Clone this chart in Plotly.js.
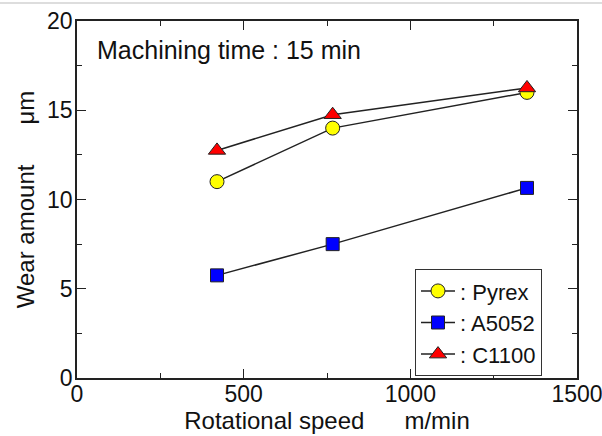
<!DOCTYPE html>
<html><head><meta charset="utf-8">
<script src="https://cdn.plot.ly/plotly-3.0.1.min.js"></script>
<style>html,body{margin:0;padding:0;background:#fff}</style>
</head><body>
<div id="chart" style="width:602px;height:436px"></div>
<script>
const speed = [420, 767, 1350];
const pyrex = [11.0, 14.0, 16.0];
const a5052 = [5.75, 7.5, 10.65];
const c1100 = [12.75, 14.75, 16.25];
const names = [': Pyrex', ': A5052', ': C1100'];
const xTitle = 'Rotational speed      m/min';
const yTitle = 'Wear amount      \u03bcm';
const note = 'Machining time : 15 min';

const FONT = 'Liberation Sans, Arial, sans-serif';
function tr(y, name, sym, col, sz) {
  return {x: speed, y: y, name: name, type: 'scatter', mode: 'lines+markers',
    line: {color: '#222', width: 1.5},
    marker: {symbol: sym, size: sz, color: col, line: {color: '#222', width: 1}}};
}
const data = [
  tr(pyrex, names[0], 'circle', '#ffff00', 14),
  tr(a5052, names[1], 'square', '#0000ff', 13),
  tr(c1100, names[2], 'triangle-up', '#ff0000', 15)
];
const axisCommon = {showgrid: false, zeroline: false, showline: true, linecolor: '#222', linewidth: 1.5,
  mirror: 'ticks', ticks: 'inside', ticklen: 9, tickwidth: 1, tickcolor: '#222',
  ticklabeloverflow: 'allow',
  tickfont: {family: FONT, size: 23, color: '#111'}};
const layout = {
  width: 602, height: 436,
  margin: {l: 77, r: 25, t: 21, b: 58},
  paper_bgcolor: '#fff', plot_bgcolor: '#fff',
  font: {family: FONT, color: '#111'},
  showlegend: true,
  legend: {x: 0.676, y: 0.305, xanchor: 'left', yanchor: 'top', bordercolor: '#333', borderwidth: 1,
    bgcolor: '#fff', font: {family: FONT, size: 22, color: '#111'}, tracegroupgap: 0, itemwidth: 34},
  xaxis: Object.assign({}, axisCommon, {range: [0, 1500], tickvals: [0, 500, 1000, 1500],
    ticklabelstandoff: -5,
    minor: {dtick: 250, ticks: 'inside', ticklen: 5, tickcolor: '#222'},
    title: {text: xTitle, font: {family: FONT, size: 24}, standoff: 0}}),
  yaxis: Object.assign({}, axisCommon, {range: [0, 20], tickvals: [0, 5, 10, 15, 20],
    ticklabelstandoff: -2,
    minor: {dtick: 2.5, ticks: 'inside', ticklen: 5, tickcolor: '#222'},
    title: {text: yTitle, font: {family: FONT, size: 24}, standoff: 6}}),
  annotations: [{text: note, xref: 'paper', yref: 'paper', x: 0.036, y: 0.92, xanchor: 'left', yanchor: 'middle',
    showarrow: false, font: {family: FONT, size: 25, color: '#111'}}],
  shapes: [{type: 'line', xref: 'paper', yref: 'paper', x0: -0.154, x1: 1.05, y0: 1.0504, y1: 1.0504,
    line: {color: '#bbb', width: 1}}]
};
Plotly.newPlot('chart', data, layout, {displayModeBar: false});
</script>
</body></html>
